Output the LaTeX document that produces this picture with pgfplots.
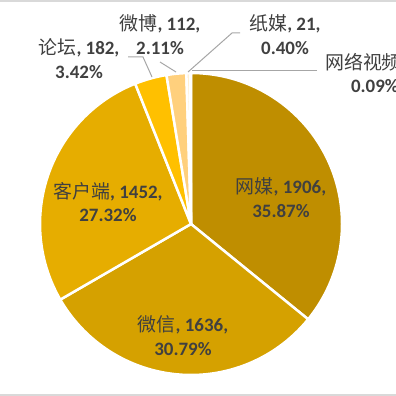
\documentclass[border=0pt]{standalone}
\usepackage{pgfplots}
\pgfplotsset{compat=1.18}
\usepackage{fontspec}
\setmainfont{Carlito}
\newfontfamily\cjk{Noto Sans CJK SC}
\definecolor{c1}{RGB}{191,142,0}
\definecolor{c2}{RGB}{213,161,0}
\definecolor{c3}{RGB}{230,173,0}
\definecolor{c4}{RGB}{255,192,0}
\definecolor{c5}{RGB}{255,208,125}
\definecolor{c6}{RGB}{255,236,200}
\definecolor{c7}{RGB}{255,246,228}
\definecolor{txt}{RGB}{64,64,64}
\definecolor{lead}{RGB}{166,166,166}
\definecolor{frame}{RGB}{217,217,217}
\begin{document}
\begin{tikzpicture}
\begin{axis}[width=396bp,height=396bp,scale only axis,
  xmin=0,xmax=396,ymin=0,ymax=396,y dir=reverse,hide axis,clip=false]
\pgfplotsextra{
  \gdef\curangle{90}
  \foreach \v/\c in {1906/c1,1636/c2,1452/c3,182/c4,112/c5,21/c6,5/c7}{
    \pgfmathsetmacro\angA{\curangle}
    \pgfmathsetmacro\angB{\curangle-\v/5314*360}
    \filldraw[fill=\c,draw=white,line width=2.5bp,line join=round]
      (axis cs:191,224) -- ++(\angA:151bp)
      arc[start angle=\angA,end angle=\angB,radius=151bp] -- cycle;
    \xdef\curangle{\angB}
  }
}
% frame lines
\draw[frame,line width=2.5bp] (axis cs:0,1) -- (axis cs:396,1);
\draw[frame,line width=3bp] (axis cs:0,395) -- (axis cs:396,395);
% leader lines
\draw[lead,line width=1bp] (axis cs:128,57) -- (axis cs:143,57) -- (axis cs:152,77);
\draw[lead,line width=1bp] (axis cs:160,62) -- (axis cs:176,72);
\draw[lead,line width=1bp] (axis cs:240,33) -- (axis cs:232,33) -- (axis cs:188,72);
\draw[lead,line width=1bp] (axis cs:317,70) -- (axis cs:192,70);
% labels
\tikzset{lbl/.style={align=center,text=txt,inner sep=0pt,
  font=\fontsize{19}{24}\selectfont\bfseries}}
\node[lbl] at (axis cs:281,198) {{\cjk\mdseries 网媒}, 1906,\\35.87\%};
\node[lbl] at (axis cs:183,336) {{\cjk\mdseries 微信}, 1636,\\30.79\%};
\node[lbl] at (axis cs:108,202) {{\cjk\mdseries 客户端}, 1452,\\27.32\%};
\node[lbl] at (axis cs:79,59) {{\cjk\mdseries 论坛}, 182,\\3.42\%};
\node[lbl] at (axis cs:160,35) {{\cjk\mdseries 微博}, 112,\\2.11\%};
\node[lbl] at (axis cs:285,35) {{\cjk\mdseries 纸媒}, 21,\\0.40\%};
\node[lbl,anchor=west] at (axis cs:325,73) {{\cjk\mdseries 网络视频}, 5,\\0.09\%};
\end{axis}
\pgfresetboundingbox
\useasboundingbox (0,0) rectangle (396bp,396bp);
\end{tikzpicture}
\end{document}
